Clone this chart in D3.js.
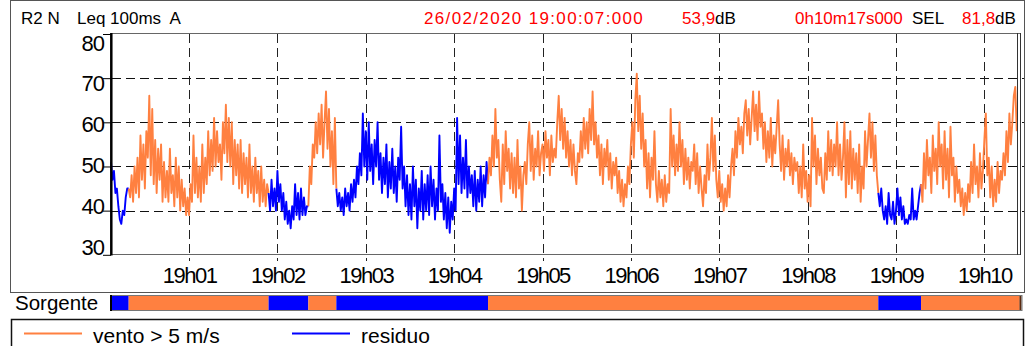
<!DOCTYPE html>
<html>
<head>
<meta charset="utf-8">
<script src="https://cdn.jsdelivr.net/npm/d3@7"></script>
<style>
    body { margin: 0; background: #fff; }
    svg text { font-family: "Liberation Sans", Arial, sans-serif; }
</style>
</head>
<body>
<div id="chart"></div>
<script>
// Leq 100ms, resampled by eye at 1 value per second, one array per source period
const segStart = [0, 12, 107, 134, 153, 256, 521, 550];
const segSource = ["residuo", "vento", "residuo", "vento", "residuo", "vento", "residuo", "vento"];
const totalSeconds = 617;

const res1 = [51,47,49,44,45,41,38,37,40,39,43,45];
const vento1 = [45,43,48,42,50,44,52,43,57,47, 55,45,58,52,66,48,63,46,56,44,
    54,47,55,42,51,43,49,42,54,44, 48,41,52,43,50,40,47,41,45,39,
    43,39,46,42,57,44,52,43,50,42, 55,44,52,46,58,48,56,49,61,50,
    58,51,55,47,60,53,64,51,61,50, 60,46,56,48,55,45,56,44,53,46,
    52,43,55,44,50,42,52,44,49,41, 50,42,47,41,46];
const res2 = [44,40,47,41,45,40,49,42,46,40, 44,38,42,37,40,36,41,38,46,39,
    44,38,45,39,43,39,41];
const vento2 = [41,50,46,55,52,60,53,62,55,64, 52,60,67,54,63,50,58,46,61];
const res3 = [45,41,44,40,43,39,45,41,44,40, 46,42,47,43,50,46,53,48,62,50,
    58,47,60,49,55,46,56,50,60,47, 53,44,52,46,55,43,51,45,54,44,
    50,42,52,47,59,45,50,41,48,39, 46,38,50,41,47,36,45,40,49,38,
    46,40,48,39,50,41,47,38,45,40, 57,42,46,38,44,36,43,35,42,38,
    45,40,61,46,57,44,52,45,56,43, 50,44,48,41,49,40,47,42,50,41,
    48,43,51];
const vento3 = [46,52,48,57,50,63,52, 56,47,42,55,46,58,49,54,45,53,
    44,52,43,56,45,50,40,48, 51,46,55,60,49,57,47,54,50,58,48,53,
    55,49,58,52,56,48,57,51,54,52, 60,66,56,63,54,61,52,
    58,50,56,48,55,49,46,53,51, 58,52,61,54,60,53,63,56,67,55,60,
    52,57,48,55,46,54,50,56,47,53,45,51,48,52, 44,49,42,47,41,46,43,50,46,
    55,60,52,65,71,58,66,54,62, 50,56,45,53,43,52,47,58,
    46,42,49,43,47,41,48,42,46,44, 63,50,
    57,48,55,49,60,50,56,46,54,47,52,45,51,
    49,55,46,53,44,50,45,41,48,44,55,47,52,61,49,57,
    47,43,49,42,46,40,45,41,48,43,50, 54,48,58,52,61,55,59,53,62,65,
    57,63,55,61,67,58,64,56,67,59,62, 54,60,51,58,52,61,50,57,53,59,65,
    55,49,57,47,54,50,56,48,53,46,52,49, 51,44,50,43,55,45,49,42,48,41,61,
    50,57,46,54,48,52,45,44,53,47,58,49,56,48,55, 50,60,48,55,47,
    52,60,43,56,46,58,45,54,47,53, 44,55,42,50,45,58, 50,56,62,52,60,49,57,48];
const res4 = [44,41,45,40,38,41,37,44,39,38, 42,37,40,45,39,43,38,41,37,38,
    37,39,38,45,38,40,38,41,44];
const vento4 = [46,42,53,45,56,48,52,44,57,49,54,46,60,50,
    55,45,58,47,54,43,59,48,52,42,50,44, 47,41,45,39,44,40,46,42,
    51,44,55,46,50,43,53,45,49, 56,62,48, 52,43,50,41,47,42,51,44,49,47,
    53,48,58,51,62,55,60,66,68,58];
const segValues = [res1, vento1, res2, vento2, res3, vento3, res4, vento4];

const yTicks = [30, 40, 50, 60, 70, 80];
const xTickLabels = ["19h01","19h02","19h03","19h04","19h05","19h06","19h07","19h08","19h09","19h10"];
const sourceNames = { vento: "vento > 5 m/s", residuo: "residuo" };
const sourceColor = { vento: "#ff8040", residuo: "#0000ff" };

const svg = d3.select("#chart")
    .append("svg")
    .attr("width", 1028)
    .attr("height", 346);

// outer frame
svg.append("rect")
    .attr("x", 10.5).attr("y", 0.5)
    .attr("width", 1014).attr("height", 292)
    .attr("fill", "none").attr("stroke", "#555");

const t0 = new Date(2020, 1, 26, 19, 0, 7);
const sec = s => new Date(t0.getTime() + s * 1000);

const x = d3.scaleTime().domain([t0, sec(totalSeconds)]).range([111, 1019.7]);
const y = d3.scaleLinear().domain([30, 80]).range([254.8, 34]);
// the tick labels are squeezed inside the plot height
const yLab = d3.scaleLinear().domain([30, 80]).range([247.5, 43]);

const xTicks = xTickLabels.map(l => {
    const [h, m] = l.split("h").map(Number);
    return new Date(2020, 1, 26, h, m, 0);
});

// header
const head = svg.append("g").attr("font-size", "17px");
head.append("text").attr("x", 21).attr("y", 24).text("R2 N");
head.append("text").attr("x", 77).attr("y", 24).attr("xml:space", "preserve").text("Leq 100ms  A");
head.append("text").attr("x", 424).attr("y", 24).attr("fill", "#ff0000")
    .attr("letter-spacing", "1.35px").text("26/02/2020 19:00:07:000");
head.append("text").attr("x", 682).attr("y", 24)
    .call(t => { t.append("tspan").attr("fill", "#ff0000").text("53,9"); t.append("tspan").text("dB"); });
head.append("text").attr("x", 795).attr("y", 24).attr("fill", "#ff0000").text("0h10m17s000");
head.append("text").attr("x", 912).attr("y", 24).text("SEL");
head.append("text").attr("x", 962).attr("y", 24)
    .call(t => { t.append("tspan").attr("fill", "#ff0000").text("81,8"); t.append("tspan").text("dB"); });

// grid
svg.append("g")
    .selectAll("line")
    .data(yTicks.filter(d => d > 30 && d < 80))
    .join("line")
    .attr("x1", 112).attr("x2", 1024)
    .attr("y1", d => Math.round(y(d)) + 0.5).attr("y2", d => Math.round(y(d)) + 0.5)
    .attr("stroke", "#111").attr("stroke-dasharray", "9,5");

svg.append("g")
    .selectAll("line")
    .data(xTicks)
    .join("line")
    .attr("x1", d => Math.round(x(d)) + 0.5).attr("x2", d => Math.round(x(d)) + 0.5)
    .attr("y1", 34).attr("y2", 261)
    .attr("stroke", "#222").attr("stroke-dasharray", "9,5");

// data, one path per source period, joined to the next period's first point
const line = d3.line().x(d => x(sec(d.t))).y(d => y(d.v));
segValues.forEach((vals, i) => {
    const pts = vals.map((v, j) => ({ t: segStart[i] + j, v: v }));
    if (i < segValues.length - 1) pts.push({ t: segStart[i + 1], v: segValues[i + 1][0] });
    svg.append("path")
        .datum(pts)
        .attr("d", line)
        .attr("fill", "none")
        .attr("stroke", sourceColor[segSource[i]])
        .attr("stroke-width", 1.9)
        .attr("stroke-linejoin", "round");
});

// plot borders
svg.append("line").attr("x1", 111).attr("x2", 1021).attr("y1", 33.5).attr("y2", 33.5).attr("stroke", "#666");
svg.append("line").attr("x1", 111).attr("x2", 1021).attr("y1", 254.5).attr("y2", 254.5).attr("stroke", "#666");
svg.append("line").attr("x1", 111.3).attr("x2", 111.3).attr("y1", 33).attr("y2", 255.5).attr("stroke", "#000").attr("stroke-width", 2.5);
svg.append("line").attr("x1", 1017.5).attr("x2", 1017.5).attr("y1", 33).attr("y2", 255).attr("stroke", "#333");
svg.append("line").attr("x1", 1020.5).attr("x2", 1020.5).attr("y1", 33).attr("y2", 255).attr("stroke", "#333");

// y axis
const yAxis = svg.append("g")
    .attr("transform", "translate(111,0)")
    .call(d3.axisLeft(y).tickValues(yTicks).tickSize(8).tickPadding(1));
yAxis.select(".domain").remove();
yAxis.selectAll("line").attr("stroke", "#000");
yAxis.selectAll("text")
    .attr("font-size", "22px")
    .attr("letter-spacing", "-1px")
    .attr("fill", "#000")
    .attr("font-family", "Liberation Sans, Arial, sans-serif")
    .attr("x", -7)
    .attr("y", d => yLab(d) - y(d));

// x axis
const xAxis = svg.append("g")
    .attr("transform", "translate(0,254.5)")
    .call(d3.axisBottom(x).tickValues(xTicks).tickSize(0).tickFormat((d, i) => xTickLabels[i]));
xAxis.select(".domain").remove();
xAxis.selectAll("text")
    .attr("font-size", "22px")
    .attr("letter-spacing", "-1.5px")
    .attr("fill", "#000")
    .attr("font-family", "Liberation Sans, Arial, sans-serif")
    .attr("y", 28).attr("dy", 0);

// Sorgente bar
svg.append("text").attr("x", 15).attr("y", 310).attr("font-size", "20.5px").text("Sorgente");
svg.append("g")
    .selectAll("rect")
    .data(segSource)
    .join("rect")
    .attr("x", (d, i) => x(sec(segStart[i])))
    .attr("width", (d, i) => x(sec(i < segStart.length - 1 ? segStart[i + 1] : totalSeconds)) - x(sec(segStart[i])))
    .attr("y", 296).attr("height", 14)
    .attr("fill", d => sourceColor[d]);
svg.append("rect").attr("x", 1019.5).attr("y", 296).attr("width", 2).attr("height", 14).attr("fill", "#5a2a10");
svg.append("rect").attr("x", 110.5).attr("y", 295.5).attr("width", 911.5).attr("height", 15)
    .attr("fill", "none").attr("stroke", "#777");
svg.append("line").attr("x1", 111).attr("x2", 111).attr("y1", 295).attr("y2", 311).attr("stroke", "#000").attr("stroke-width", 2);

// legend
svg.append("rect").attr("x", 11.5).attr("y", 319.5).attr("width", 1012).attr("height", 40)
    .attr("fill", "none").attr("stroke", "#111").attr("stroke-width", 1.5);
const legendItems = [["vento", 24], ["residuo", 292]];
const leg = svg.append("g")
    .selectAll("g")
    .data(legendItems)
    .join("g")
    .attr("transform", d => `translate(${d[1]},0)`);
leg.append("line").attr("x1", 0).attr("x2", 58).attr("y1", 333.5).attr("y2", 333.5)
    .attr("stroke", d => sourceColor[d[0]]).attr("stroke-width", 2);
leg.append("text").attr("x", 69).attr("y", 343).attr("font-size", "21px").text(d => sourceNames[d[0]]);
</script>
</body>
</html>
